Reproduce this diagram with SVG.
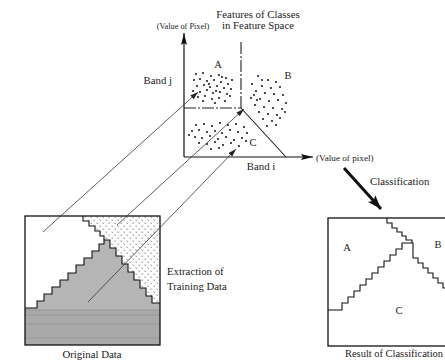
<svg xmlns="http://www.w3.org/2000/svg" width="445" height="363" viewBox="0 0 445 363">
<style>
text{font-family:"Liberation Serif","Times New Roman",serif;fill:#222}
.t{font-size:10.8px}
.s{font-size:8.3px}
.s2{font-size:9.2px}
.lbl{font-size:10.5px}
.ax{stroke:#111;stroke-width:1.2;fill:none}
.part{stroke:#222;stroke-width:1.1;fill:none}
.con{stroke:#333;stroke-width:0.8;fill:none}
.stair{stroke:#111;stroke-width:1.1;fill:none}
.dots circle{fill:#222}
</style>
<defs>
<marker id="axh" viewBox="0 0 12 6" refX="12" refY="3" markerWidth="12" markerHeight="6" markerUnits="userSpaceOnUse" orient="auto"><path d="M0,0 L12,3 L0,6 L2,3 z" fill="#111"/></marker>
<marker id="ch" viewBox="0 0 8 5" refX="8" refY="2.5" markerWidth="8" markerHeight="5" markerUnits="userSpaceOnUse" orient="auto"><path d="M0,0 L8,2.5 L0,5 z" fill="#222"/></marker>
<marker id="bh" viewBox="0 0 14 10" refX="14" refY="5" markerWidth="14" markerHeight="10" markerUnits="userSpaceOnUse" orient="auto"><path d="M0,0 L14,5 L0,10 L3,5 z" fill="#111"/></marker>
<pattern id="hatch" width="6" height="6" patternUnits="userSpaceOnUse">
<rect width="6" height="6" fill="#fff"/>
<path d="M0.5,0.5 l1.5,1.5 M2,0.5 l-1.5,1.5 M3.5,3.5 l1.5,1.5 M5,3.5 l-1.5,1.5" stroke="#777" stroke-width="0.5"/>
</pattern>
</defs>

<g id="feature-space">
<line class="ax" x1="184" y1="157" x2="184" y2="33" marker-end="url(#axh)"/>
<line class="ax" x1="184" y1="157" x2="313" y2="157" marker-end="url(#axh)"/>
<path class="part" d="M241,42 V108" stroke-dasharray="12,2,2,2"/>
<path class="part" d="M184,108 H241" stroke-dasharray="12,2,2,2"/>
<path class="part" d="M241,108 L286,157"/>
<g class="dots">
<circle cx="196" cy="74" r="1.1"/><circle cx="203" cy="73" r="1.1"/><circle cx="211" cy="76" r="1.1"/><circle cx="219" cy="75" r="1.1"/><circle cx="226" cy="78" r="1.1"/><circle cx="232" cy="80" r="1.1"/><circle cx="194" cy="80" r="1.1"/><circle cx="200" cy="79" r="1.1"/><circle cx="207" cy="81" r="1.1"/><circle cx="214" cy="80" r="1.1"/><circle cx="221" cy="82" r="1.1"/><circle cx="228" cy="84" r="1.1"/><circle cx="197" cy="86" r="1.1"/><circle cx="204" cy="85" r="1.1"/><circle cx="210" cy="87" r="1.1"/><circle cx="217" cy="86" r="1.1"/><circle cx="224" cy="88" r="1.1"/><circle cx="231" cy="89" r="1.1"/><circle cx="193" cy="91" r="1.1"/><circle cx="200" cy="92" r="1.1"/><circle cx="207" cy="90" r="1.1"/><circle cx="213" cy="93" r="1.1"/><circle cx="220" cy="92" r="1.1"/><circle cx="227" cy="94" r="1.1"/><circle cx="198" cy="97" r="1.1"/><circle cx="205" cy="96" r="1.1"/><circle cx="212" cy="99" r="1.1"/><circle cx="219" cy="98" r="1.1"/><circle cx="225" cy="101" r="1.1"/><circle cx="215" cy="103" r="1.1"/><circle cx="203" cy="101" r="1.1"/><circle cx="209" cy="84" r="1.1"/><circle cx="222" cy="77" r="1.1"/><circle cx="216" cy="91" r="1.1"/><circle cx="230" cy="96" r="1.1"/>
<circle cx="258" cy="76" r="1.1"/><circle cx="268" cy="80" r="1.1"/><circle cx="276" cy="82" r="1.1"/><circle cx="252" cy="84" r="1.1"/><circle cx="262" cy="86" r="1.1"/><circle cx="271" cy="88" r="1.1"/><circle cx="280" cy="87" r="1.1"/><circle cx="256" cy="91" r="1.1"/><circle cx="265" cy="93" r="1.1"/><circle cx="274" cy="94" r="1.1"/><circle cx="283" cy="95" r="1.1"/><circle cx="251" cy="98" r="1.1"/><circle cx="260" cy="99" r="1.1"/><circle cx="269" cy="101" r="1.1"/><circle cx="278" cy="100" r="1.1"/><circle cx="286" cy="103" r="1.1"/><circle cx="255" cy="105" r="1.1"/><circle cx="264" cy="107" r="1.1"/><circle cx="273" cy="108" r="1.1"/><circle cx="282" cy="109" r="1.1"/><circle cx="259" cy="112" r="1.1"/><circle cx="268" cy="114" r="1.1"/><circle cx="277" cy="115" r="1.1"/><circle cx="263" cy="119" r="1.1"/><circle cx="272" cy="121" r="1.1"/><circle cx="280" cy="118" r="1.1"/><circle cx="267" cy="126" r="1.1"/><circle cx="276" cy="125" r="1.1"/><circle cx="254" cy="95" r="1.1"/><circle cx="285" cy="112" r="1.1"/><circle cx="262" cy="80" r="1.1"/><circle cx="257" cy="100" r="1.1"/>
<circle cx="196" cy="125" r="1.1"/><circle cx="204" cy="124" r="1.1"/><circle cx="212" cy="126" r="1.1"/><circle cx="220" cy="123" r="1.1"/><circle cx="228" cy="125" r="1.1"/><circle cx="236" cy="124" r="1.1"/><circle cx="244" cy="127" r="1.1"/><circle cx="192" cy="131" r="1.1"/><circle cx="199" cy="130" r="1.1"/><circle cx="207" cy="132" r="1.1"/><circle cx="215" cy="131" r="1.1"/><circle cx="222" cy="133" r="1.1"/><circle cx="230" cy="130" r="1.1"/><circle cx="238" cy="132" r="1.1"/><circle cx="247" cy="133" r="1.1"/><circle cx="195" cy="137" r="1.1"/><circle cx="202" cy="138" r="1.1"/><circle cx="210" cy="136" r="1.1"/><circle cx="218" cy="139" r="1.1"/><circle cx="226" cy="137" r="1.1"/><circle cx="234" cy="140" r="1.1"/><circle cx="242" cy="138" r="1.1"/><circle cx="199" cy="143" r="1.1"/><circle cx="207" cy="144" r="1.1"/><circle cx="215" cy="142" r="1.1"/><circle cx="223" cy="145" r="1.1"/><circle cx="231" cy="143" r="1.1"/><circle cx="239" cy="146" r="1.1"/><circle cx="211" cy="149" r="1.1"/><circle cx="219" cy="148" r="1.1"/><circle cx="246" cy="141" r="1.1"/><circle cx="189" cy="135" r="1.1"/>
</g>
<text class="t" x="258" y="18" text-anchor="middle">Features of Classes</text>
<text class="t" x="258" y="29" text-anchor="middle">in Feature Space</text>
<text class="s" x="183" y="29" text-anchor="middle">(Value of Pixel)</text>
<text class="t" x="172" y="84" text-anchor="end">Band j</text>
<text class="lbl" x="218" y="68" text-anchor="middle">A</text>
<text class="lbl" x="288" y="79" text-anchor="middle">B</text>
<text class="lbl" x="253" y="146" text-anchor="middle">C</text>
<text class="t" x="261" y="170" text-anchor="middle">Band i</text>
<text class="s2" x="316" y="161">(Value of pixel)</text>
</g>

<g id="original-data">
<rect x="25" y="216" width="135" height="129" fill="#fff"/>
<path d="M25,308 H37 V301 H44 V294 H52 V287 H60 V280 H68 V273 H76 V265 H84 V258 H92 V251 H99 V244 H104 V240 H110 V248 H116 V256 H122 V264 H128 V272 H134 V280 H140 V288 H146 V296 H152 V303 H160 V345 H25 Z" fill="#b5b5b5"/>
<rect x="25" y="310" width="135" height="35" fill="#a9a9a9"/>
<path d="M25,310 H160 M25,315 H160 M25,324 H160 M25,338 H160" stroke="#8f8f8f" stroke-width="0.7"/>
<path d="M83,216 H160 V303 H152 V296 H146 V288 H140 V280 H134 V272 H128 V264 H122 V256 H116 V248 H110 V240 H104 V236 H100 V231 H95 V226 H89 V221 H83 Z" fill="url(#hatch)"/>
<path class="stair" d="M25,308 H37 V301 H44 V294 H52 V287 H60 V280 H68 V273 H76 V265 H84 V258 H92 V251 H99 V244 H104 V240 H110 V248 H116 V256 H122 V264 H128 V272 H134 V280 H140 V288 H146 V296 H152 V303 H160"/>
<path class="stair" d="M83,216 V221 H89 V226 H95 V231 H100 V236 H104 V240"/>
<rect x="25" y="216" width="135" height="129" fill="none" stroke="#111" stroke-width="1.3"/>
<text class="t" x="92" y="358" text-anchor="middle">Original Data</text>
<text class="t" x="167" y="275">Extraction of</text>
<text class="t" x="167" y="290">Training Data</text>
</g>

<g id="result">
<rect x="328" y="218" width="125" height="128" fill="#fff" stroke="#111" stroke-width="1.3"/>
<path class="stair" d="M387,218 V223 H392 V228 H397 V232 H402 V236 H406 V240 H412 V243"/>
<path class="stair" d="M328,310 H342 V303 H348 V297 H354 V291 H360 V285 H366 V279 H372 V273 H378 V267 H384 V261 H390 V255 H396 V249 H402 V243 H413 V258 H418 V263 H423 V268 H428 V273 H433 V278 H438 V283 H443 V288 H450"/>
<text class="lbl" x="347" y="251" text-anchor="middle">A</text>
<text class="lbl" x="438" y="248" text-anchor="middle">B</text>
<text class="lbl" x="399" y="314" text-anchor="middle">C</text>
<text class="t" x="345" y="357" textLength="98" lengthAdjust="spacingAndGlyphs">Result of Classification</text>
</g>

<g id="classification-label">
<text class="t" x="370" y="185">Classification</text>
</g>

<g id="connectors">
<line class="con" x1="43" y1="232" x2="198" y2="92" marker-end="url(#ch)"/>
<line class="con" x1="117" y1="225" x2="244" y2="109" marker-end="url(#ch)"/>
<line class="con" x1="88" y1="302" x2="236" y2="149" marker-end="url(#ch)"/>
<line x1="344" y1="168" x2="381" y2="209" stroke="#111" stroke-width="3" marker-end="url(#bh)"/>
</g>
</svg>
